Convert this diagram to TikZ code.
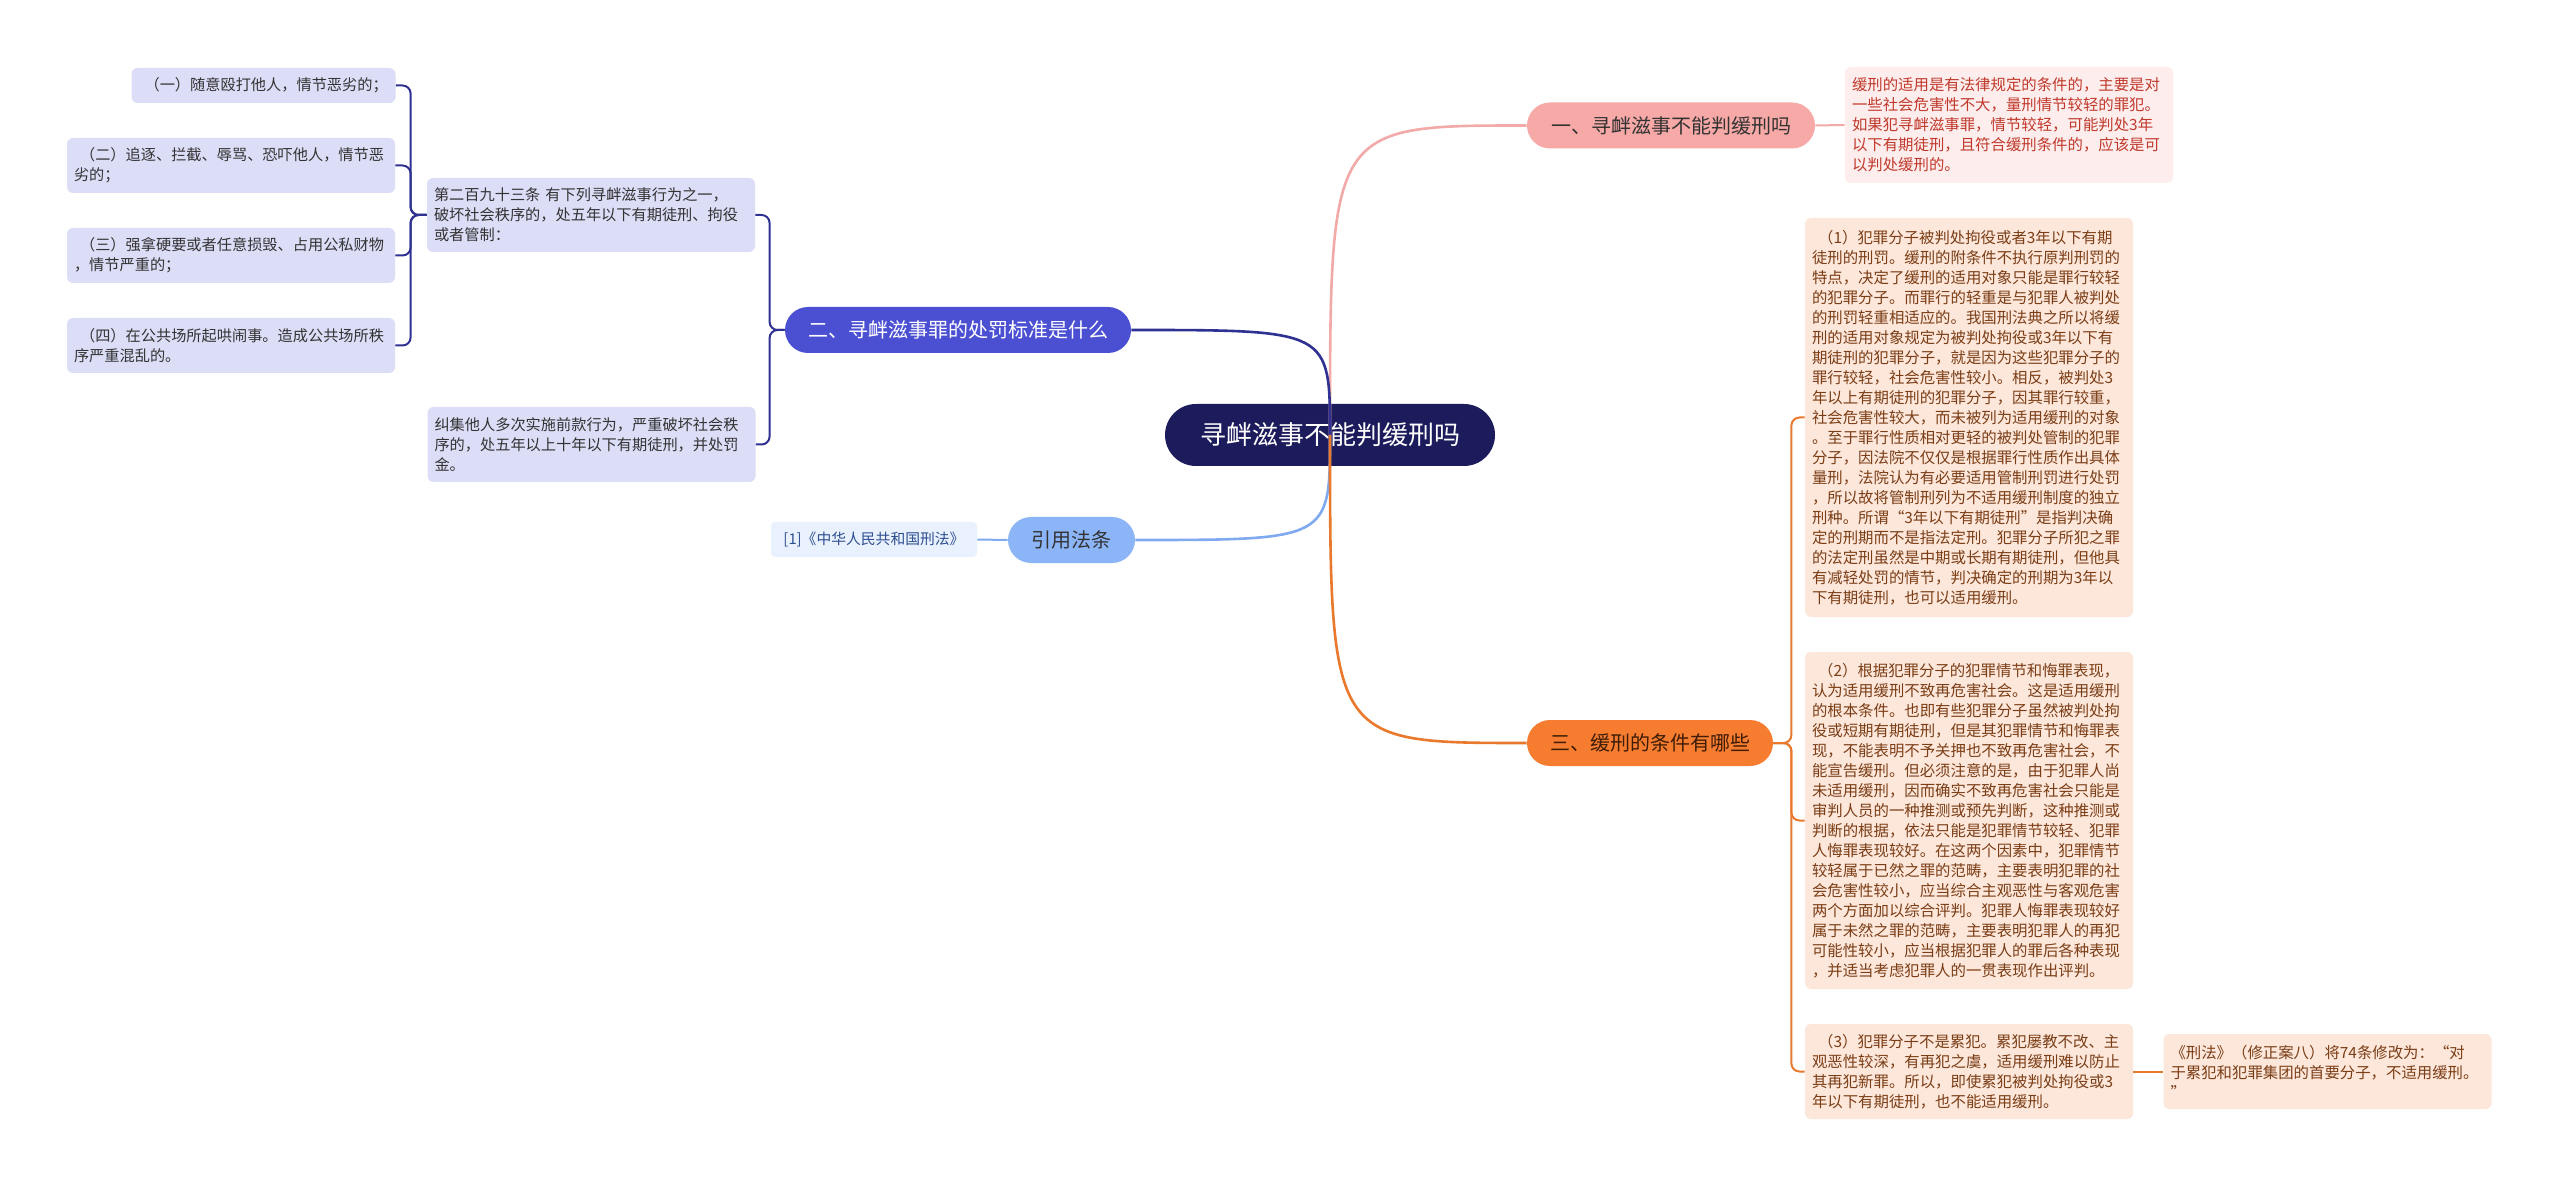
\documentclass[tikz,border=0pt]{standalone}
\usepackage{fontspec}
\setmainfont{Noto Sans CJK SC}
\usepackage{tikz}

\definecolor{rootnavy}{HTML}{1C1B5C}
\definecolor{darktext}{HTML}{333333}
\definecolor{b1fill}{HTML}{F6A9A7}
\definecolor{pinkline}{HTML}{F2AAA8}
\definecolor{d1fill}{HTML}{FDEDED}
\definecolor{d1text}{HTML}{C0392B}
\definecolor{b2fill}{HTML}{4B50D2}
\definecolor{navyline}{HTML}{2E3192}
\definecolor{itemfill}{HTML}{DCDDF7}
\definecolor{reffill}{HTML}{8CB5F8}
\definecolor{blueline}{HTML}{80AAF0}
\definecolor{citefill}{HTML}{E8F1FD}
\definecolor{citetext}{HTML}{2D4E8F}
\definecolor{b3fill}{HTML}{F67D30}
\definecolor{b3text}{HTML}{3E1C06}
\definecolor{orangeline}{HTML}{E9792C}
\definecolor{leaffill}{HTML}{FDE6DA}
\definecolor{leaftext}{HTML}{7A3E16}

\newcommand{\lpad}{\hspace*{.4em}}

\begin{document}
\begin{tikzpicture}[
        x=0.5pt, y=-0.5pt,
        rootbox/.style={fill=rootnavy, text=white, rounded corners=15.5pt, minimum width=165pt, minimum height=31pt, inner sep=0pt, font=\fontsize{13pt}{15pt}\selectfont},
        topic/.style={rounded corners=11.5pt, minimum height=23pt, inner sep=0pt, font=\fontsize{10pt}{12pt}\selectfont},
        item/.style={fill=itemfill, text=darktext, rounded corners=3pt, align=left, text width=157pt, inner xsep=3.5pt, inner ysep=0pt, font=\fontsize{7.6pt}{10pt}\selectfont},
        detail/.style={fill=leaffill, text=leaftext, rounded corners=3pt, align=left, text width=157pt, inner xsep=3.5pt, inner ysep=0pt, font=\fontsize{7.7pt}{10pt}\selectfont},
        mainline/.style={line width=1.3pt},
        subline/.style={line width=1pt, rounded corners=4pt}
    ]
    \fill[white] (0,0) rectangle (2560,1187);
    \useasboundingbox (0,0) rectangle (2560,1187);

    % Centre
    \node[rootbox] (root) at (1330,435) {寻衅滋事不能判缓刑吗};

    % Branch one
    \node[topic, fill=b1fill, text=darktext, minimum width=144pt] (b1) at (1671,125.5) {一、寻衅滋事不能判缓刑吗};
    \node[detail, fill=d1fill, text=d1text, minimum height=58pt] (d1) at (2009,125) {缓刑的适用是有法律规定的条件的，主要是对\\一些社会危害性不大，量刑情节较轻的罪犯。\\如果犯寻衅滋事罪，情节较轻，可能判处3年\\以下有期徒刑，且符合缓刑条件的，应该是可\\以判处缓刑的。};

    % Branch two
    \node[topic, fill=b2fill, text=white, minimum width=173pt] (b2) at (958,330) {二、寻衅滋事罪的处罚标准是什么};
    \node[item, minimum height=37pt] (art) at (591,215) {第二百九十三条 有下列寻衅滋事行为之一，\\破坏社会秩序的，处五年以下有期徒刑、拘役\\或者管制：};
    \node[item, text width=125pt, minimum height=17.5pt] (it1) at (263.5,85.5) {\lpad（一）随意殴打他人，情节恶劣的；};
    \node[item, minimum height=27.5pt] (it2) at (231,165.5) {\lpad（二）追逐、拦截、辱骂、恐吓他人，情节恶\\劣的；};
    \node[item, minimum height=27.5pt] (it3) at (231,255.5) {\lpad（三）强拿硬要或者任意损毁、占用公私财物\\，情节严重的；};
    \node[item, minimum height=27.5pt] (it4) at (231,345.5) {\lpad（四）在公共场所起哄闹事。造成公共场所秩\\序严重混乱的。};
    \node[item, minimum height=37.5pt] (jj) at (591.5,444.5) {纠集他人多次实施前款行为，严重破坏社会秩\\序的，处五年以上十年以下有期徒刑，并处罚\\金。};

    % Cited law
    \node[topic, fill=reffill, text=darktext, minimum width=63.5pt] (ref) at (1071.5,540) {引用法条};
    \node[fill=citefill, text=citetext, rounded corners=2pt, minimum width=103pt, minimum height=17.5pt, inner sep=0pt, font=\fontsize{7.4pt}{9pt}\selectfont] (cite) at (874,539.5) {[1]《中华人民共和国刑法》};

    % Branch three
    \node[topic, fill=b3fill, text=b3text, minimum width=123pt] (b3) at (1650,743) {三、缓刑的条件有哪些};
    \node[detail, minimum height=199.5pt] (c1) at (1969,417.5) {\lpad（1）犯罪分子被判处拘役或者3年以下有期\\徒刑的刑罚。缓刑的附条件不执行原判刑罚的\\特点，决定了缓刑的适用对象只能是罪行较轻\\的犯罪分子。而罪行的轻重是与犯罪人被判处\\的刑罚轻重相适应的。我国刑法典之所以将缓\\刑的适用对象规定为被判处拘役或3年以下有\\期徒刑的犯罪分子，就是因为这些犯罪分子的\\罪行较轻，社会危害性较小。相反，被判处3\\年以上有期徒刑的犯罪分子，因其罪行较重，\\社会危害性较大，而未被列为适用缓刑的对象\\。至于罪行性质相对更轻的被判处管制的犯罪\\分子，因法院不仅仅是根据罪行性质作出具体\\量刑，法院认为有必要适用管制刑罚进行处罚\\，所以故将管制刑列为不适用缓刑制度的独立\\刑种。所谓“3年以下有期徒刑”是指判决确\\定的刑期而不是指法定刑。犯罪分子所犯之罪\\的法定刑虽然是中期或长期有期徒刑，但他具\\有减轻处罚的情节，判决确定的刑期为3年以\\下有期徒刑，也可以适用缓刑。};
    \node[detail, minimum height=168.5pt] (c2) at (1969,820.5) {\lpad（2）根据犯罪分子的犯罪情节和悔罪表现，\\认为适用缓刑不致再危害社会。这是适用缓刑\\的根本条件。也即有些犯罪分子虽然被判处拘\\役或短期有期徒刑，但是其犯罪情节和悔罪表\\现，不能表明不予关押也不致再危害社会，不\\能宣告缓刑。但必须注意的是，由于犯罪人尚\\未适用缓刑，因而确实不致再危害社会只能是\\审判人员的一种推测或预先判断，这种推测或\\判断的根据，依法只能是犯罪情节较轻、犯罪\\人悔罪表现较好。在这两个因素中，犯罪情节\\较轻属于已然之罪的范畴，主要表明犯罪的社\\会危害性较小，应当综合主观恶性与客观危害\\两个方面加以综合评判。犯罪人悔罪表现较好\\属于未然之罪的范畴，主要表明犯罪人的再犯\\可能性较小，应当根据犯罪人的罪后各种表现\\，并适当考虑犯罪人的一贯表现作出评判。};
    \node[detail, minimum height=47.5pt] (c3) at (1969,1071.5) {\lpad（3）犯罪分子不是累犯。累犯屡教不改、主\\观恶性较深，有再犯之虞，适用缓刑难以防止\\其再犯新罪。所以，即使累犯被判处拘役或3\\年以下有期徒刑，也不能适用缓刑。};
    \node[detail, minimum height=37.5pt] (law) at (2327.5,1071.5) {《刑法》（修正案八）将74条修改为：“对\\于累犯和犯罪集团的首要分子，不适用缓刑。\\”};

    % Curves from the centre
    \draw[mainline, pinkline] (root.center) .. controls (root.center |- b1.west) .. (b1.west);
    \draw[mainline, navyline] (root.center) .. controls (root.center |- b2.east) .. (b2.east);
    \draw[mainline, blueline] (root.center) .. controls (root.center |- ref.east) .. (ref.east);
    \draw[mainline, orangeline] (root.center) .. controls (root.center |- b3.west) .. (b3.west);

    % Brackets
    \draw[subline, pinkline] (b1.east) -- (d1.west);
    \draw[subline, navyline] (b2.west) -- ++(-15,0) |- (art.east);
    \draw[subline, navyline] (b2.west) -- ++(-15,0) |- (jj.east);
    \draw[subline, navyline] (art.west) -- ++(-16,0) |- (it1.east);
    \draw[subline, navyline] (art.west) -- ++(-16,0) |- (it2.east);
    \draw[subline, navyline] (art.west) -- ++(-16,0) |- (it3.east);
    \draw[subline, navyline] (art.west) -- ++(-16,0) |- (it4.east);
    \draw[subline, blueline] (ref.west) -- (cite.east);
    \draw[subline, orangeline] (b3.east) -- ++(18,0) |- (c1.west);
    \draw[subline, orangeline] (b3.east) -- ++(18,0) |- (c2.west);
    \draw[subline, orangeline] (b3.east) -- ++(18,0) |- (c3.west);
    \draw[subline, orangeline] (c3.east) -- (law.west);
\end{tikzpicture}
\end{document}
